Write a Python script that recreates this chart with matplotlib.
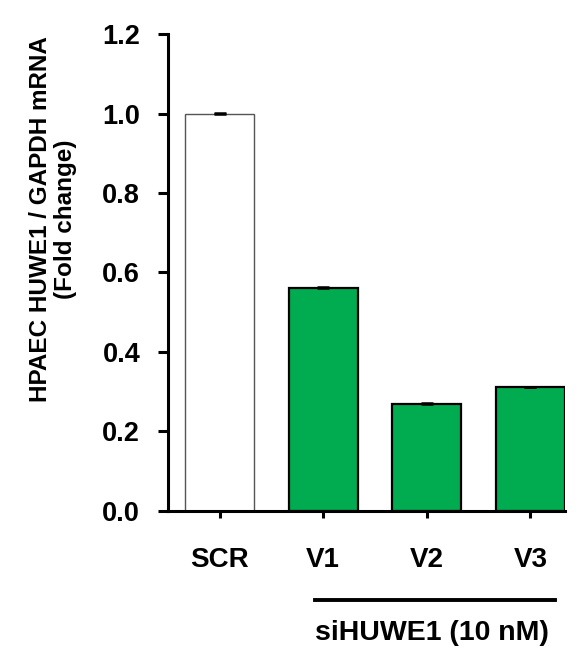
import matplotlib.pyplot as plt

categories = ["SCR", "V1", "V2", "V3"]
values = [1.0, 0.562, 0.270, 0.312]
errors = [0.001, 0.001, 0.001, 0.001]
colors = ["white", "#00ac4f", "#00ac4f", "#00ac4f"]
edges = ["#555555", "black", "black", "black"]
yticks = [0.0, 0.2, 0.4, 0.6, 0.8, 1.0, 1.2]

plt.rcParams["font.family"] = ["Liberation Sans", "DejaVu Sans"]
plt.rcParams["font.weight"] = "bold"

fig = plt.figure(figsize=(5.86, 6.59), dpi=100)
ax = fig.add_axes([0.2867, 0.2246, 0.6773, 0.7238])

x = range(len(categories))
for i in x:
    ax.bar(i, values[i], width=0.665, color=colors[i], edgecolor=edges[i],
           linewidth=1.0 if i == 0 else 1.6, zorder=2)
    ax.errorbar(i, values[i], yerr=errors[i], fmt="none", ecolor="black",
                elinewidth=1, capsize=4.3, capthick=1.8, zorder=3)

ax.set_xlim(-0.497, 3.333)
ax.set_ylim(0, 1.2)
ax.set_yticks(yticks)
ax.set_yticklabels([f"{v:.1f}" for v in yticks], fontsize=19.5, fontweight="bold")
ax.set_xticks(list(x))
ax.set_xticklabels(categories, fontsize=20, fontweight="bold")
ax.spines["top"].set_visible(False)
ax.spines["right"].set_visible(False)
ax.spines["left"].set_linewidth(2.2)
ax.spines["bottom"].set_linewidth(2.2)
ax.tick_params(axis="y", width=2.2, length=7, direction="out", pad=13)
ax.tick_params(axis="x", width=2.2, length=5, direction="out", pad=21)

ax.set_ylabel("HPAEC HUWE1 / GAPDH mRNA\n(Fold change)", fontsize=17.5,
              fontweight="bold", linespacing=1.1, va="center")
ax.yaxis.set_label_coords(-0.29, 0.612)

fig.add_artist(plt.Line2D([315 / 586, 555 / 586], [1 - 600 / 659, 1 - 600 / 659],
                          color="black", linewidth=2.8))
fig.text(432 / 586, 1 - 633 / 659, "siHUWE1 (10 nM)", ha="center", va="center",
         fontsize=20.5, fontweight="bold")

fig.savefig("out.png", dpi=100)
